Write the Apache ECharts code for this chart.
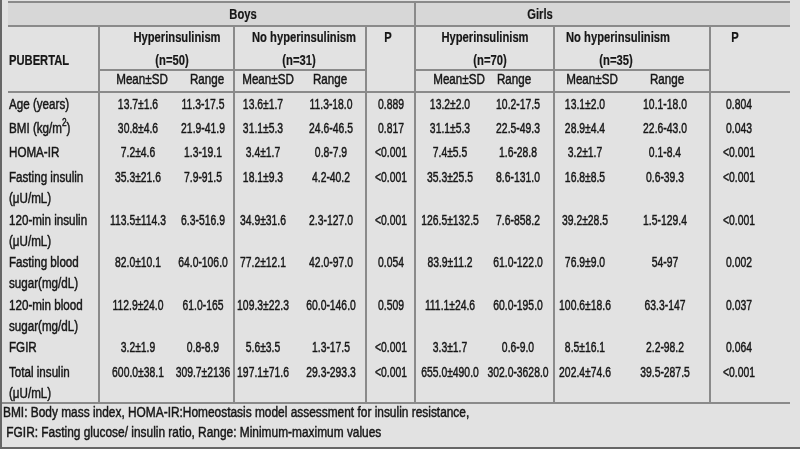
<!DOCTYPE html>
<html>
<head>
<meta charset="utf-8">
<script src="https://cdn.jsdelivr.net/npm/echarts@6/dist/echarts.min.js"></script>
<style>
  html, body { margin: 0; padding: 0; background: #e2e2e2; }
  #main { width: 800px; height: 449px; }
</style>
</head>
<body>
<div id="main"></div>
<script>
// row labels
var categories = [
  'Age (years)',
  'BMI (kg/m{sup|2})',
  'HOMA-IR',
  'Fasting insulin\n(\u03bcU/mL)',
  '120-min insulin\n(\u03bcU/mL)',
  'Fasting blood\nsugar(mg/dL)',
  '120-min blood\nsugar(mg/dL)',
  'FGIR',
  'Total insulin\n(\u03bcU/mL)'
];
// boys
var boysHyperMean = ['13.7\u00b11.6', '30.8\u00b14.6', '7.2\u00b14.6', '35.3\u00b121.6', '113.5\u00b1114.3', '82.0\u00b110.1', '112.9\u00b124.0', '3.2\u00b11.9', '600.0\u00b138.1'];
var boysHyperRange = ['11.3-17.5', '21.9-41.9', '1.3-19.1', '7.9-91.5', '6.3-516.9', '64.0-106.0', '61.0-165', '0.8-8.9', '309.7\u00b12136'];
var boysNoMean = ['13.6\u00b11.7', '31.1\u00b15.3', '3.4\u00b11.7', '18.1\u00b19.3', '34.9\u00b131.6', '77.2\u00b112.1', '109.3\u00b122.3', '5.6\u00b13.5', '197.1\u00b171.6'];
var boysNoRange = ['11.3-18.0', '24.6-46.5', '0.8-7.9', '4.2-40.2', '2.3-127.0', '42.0-97.0', '60.0-146.0', '1.3-17.5', '29.3-293.3'];
var boysP = ['0.889', '0.817', '<0.001', '<0.001', '<0.001', '0.054', '0.509', '<0.001', '<0.001'];
// girls
var girlsHyperMean = ['13.2\u00b12.0', '31.1\u00b15.3', '7.4\u00b15.5', '35.3\u00b125.5', '126.5\u00b1132.5', '83.9\u00b111.2', '111.1\u00b124.6', '3.3\u00b11.7', '655.0\u00b1490.0'];
var girlsHyperRange = ['10.2-17.5', '22.5-49.3', '1.6-28.8', '8.6-131.0', '7.6-858.2', '61.0-122.0', '60.0-195.0', '0.6-9.0', '302.0-3628.0'];
var girlsNoMean = ['13.1\u00b12.0', '28.9\u00b14.4', '3.2\u00b11.7', '16.8\u00b18.5', '39.2\u00b128.5', '76.9\u00b19.0', '100.6\u00b118.6', '8.5\u00b116.1', '202.4\u00b174.6'];
var girlsNoRange = ['10.1-18.0', '22.6-43.0', '0.1-8.4', '0.6-39.3', '1.5-129.4', '54-97', '63.3-147', '2.2-98.2', '39.5-287.5'];
var girlsP = ['0.804', '0.043', '<0.001', '<0.001', '<0.001', '0.002', '0.037', '0.064', '<0.001'];

// header texts
var groups = ['Boys', 'Girls'];
var subGroups = ['Hyperinsulinism', 'No hyperinsulinism', 'P'];
var groupSizes = ['(n=50)', '(n=31)', '(n=70)', '(n=35)'];
var statLabels = ['Mean\u00b1SD', 'Range'];
var cornerLabel = 'PUBERTAL';
var footnotes = [
  'BMI: Body mass index, HOMA-IR:Homeostasis model assessment for insulin resistance,',
  ' FGIR: Fasting glucose/ insulin ratio, Range: Minimum-maximum values'
];

var columns = [categories, boysHyperMean, boysHyperRange, boysNoMean, boysNoRange, boysP,
  girlsHyperMean, girlsHyperRange, girlsNoMean, girlsNoRange, girlsP];

// layout (axis units = pixels)
var colX = [9, 138, 203, 263, 331, 391, 450, 518, 585, 665, 739];
var rowY = [105, 129, 153, 178, 221, 263, 306, 348, 373];
var LINE_H = 21;
var FONT = '"Liberation Sans", Arial, sans-serif';
var INK = '#161616';
// the source font is a condensed face: squeeze horizontally
var SQUEEZE = { label: 0.83, value: 0.74, bold: 0.8, note: 0.85 };

var cells = [];
columns.forEach(function (col, c) {
  col.forEach(function (txt, r) {
    cells.push({ value: [colX[c], rowY[r]], text: txt, align: c === 0 ? 'left' : 'center', kind: c === 0 ? 'label' : 'value' });
  });
});
// header cells
var groupX = [243, 540], subX = [[177, 304, 388], [485, 618, 735]];
var sizeX = [172, 299, 490, 616], statX = [142, 207, 268, 330, 459, 514, 592, 667];
groups.forEach(function (g, i) {
  cells.push({ value: [groupX[i], 15], text: g, align: 'center', kind: 'bold' });
  subGroups.forEach(function (s, j) {
    cells.push({ value: [subX[i][j], 38], text: s, align: 'center', kind: 'bold' });
  });
});
groupSizes.forEach(function (s, i) {
  cells.push({ value: [sizeX[i], 61], text: s, align: 'center', kind: 'bold' });
});
statX.forEach(function (x, i) {
  cells.push({ value: [x, 80], text: statLabels[i % 2], align: 'center', kind: 'label' });
});
cells.push({ value: [9, 61], text: cornerLabel, align: 'left', kind: 'bold' });
footnotes.forEach(function (f, i) {
  cells.push({ value: [3, 413 + i * 20], text: f, align: 'left', kind: 'note' });
});

var chart = echarts.init(document.getElementById('main'), null, { renderer: 'canvas' });

var ruleColor = '#8a8a8a';
function hLine(x1, x2, y) {
  return { type: 'line', shape: { x1: x1, y1: y, x2: x2, y2: y }, style: { stroke: ruleColor, lineWidth: 2 } };
}
function vLine(x, y1, y2) {
  return { type: 'line', shape: { x1: x, y1: y1, x2: x, y2: y2 }, style: { stroke: ruleColor, lineWidth: 2 } };
}

chart.setOption({
  backgroundColor: '#e2e2e2',
  animation: false,
  grid: { left: 0, right: 0, top: 0, bottom: 0 },
  xAxis: { type: 'value', min: 0, max: 800, show: false },
  yAxis: { type: 'value', min: 0, max: 449, inverse: true, show: false },
  graphic: [
    { type: 'rect', z: -10, shape: { x: 8, y: 2, width: 782, height: 24 }, style: { fill: '#d7d7d7' } },
    hLine(8, 790, 2),
    hLine(8, 790, 26),
    hLine(99, 366, 70),
    hLine(415, 710, 70),
    hLine(8, 790, 92),
    hLine(2, 790, 403),
    vLine(99, 27, 403),
    vLine(234, 27, 403),
    vLine(366, 27, 403),
    vLine(415, 2, 403),
    vLine(554, 27, 403),
    vLine(710, 27, 403),
    // outer frame
    { type: 'line', shape: { x1: 1, y1: 0, x2: 1, y2: 449 }, style: { stroke: '#666', lineWidth: 2 } },
    { type: 'line', shape: { x1: 0, y1: 448, x2: 800, y2: 448 }, style: { stroke: '#666', lineWidth: 2 } }
  ],
  series: [{
    type: 'custom',
    coordinateSystem: 'cartesian2d',
    data: cells,
    silent: true,
    renderItem: function (params, api) {
      var cell = cells[params.dataIndex];
      var p = api.coord([api.value(0), api.value(1)]);
      return {
        type: 'text',
        x: p[0],
        y: p[1] - LINE_H / 2,
        scaleX: SQUEEZE[cell.kind],
        style: {
          text: cell.text,
          align: cell.align,
          verticalAlign: 'top',
          lineHeight: LINE_H,
          fill: INK,
          stroke: INK,
          lineWidth: cell.kind === 'bold' ? 0.2 : 0.45,
          fontFamily: FONT,
          fontSize: 14,
          fontWeight: cell.kind === 'bold' ? 'bold' : 'normal',
          rich: {
            sup: { fontSize: 10, verticalAlign: 'top', lineHeight: 14, fontFamily: FONT, fill: INK }
          }
        }
      };
    }
  }]
});
</script>
</body>
</html>
